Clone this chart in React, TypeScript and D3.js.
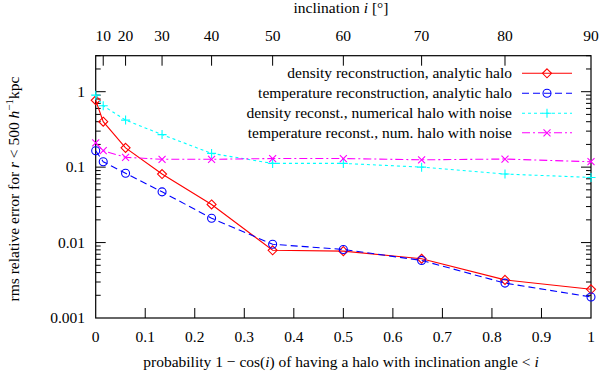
import React, { useEffect, useRef } from "react";
import * as d3 from "d3";

// inclination angle of the halo [deg]
const inclination = [0, 10, 20, 30, 40, 50, 60, 70, 80, 90];
// rms relative error for r < 500 h^-1 kpc
const densityAnalytic = [0.77, 0.40, 0.18, 0.081, 0.032, 0.0079, 0.0077, 0.0061, 0.0032, 0.0024];
const temperatureAnalytic = [0.165, 0.118, 0.083, 0.047, 0.021, 0.0095, 0.0081, 0.0058, 0.0029, 0.0019];
const densityNumerical = [0.9, 0.65, 0.42, 0.27, 0.152, 0.112, 0.112, 0.1, 0.081, 0.073];
const temperatureNumerical = [0.21, 0.165, 0.135, 0.127, 0.127, 0.13, 0.13, 0.125, 0.128, 0.118];

const seriesNames = [
  "density reconstruction, analytic halo",
  "temperature reconstruction, analytic halo",
  "density reconst., numerical halo with noise",
  "temperature reconst., num. halo with noise",
];

const bottomTicks = [0, 0.1, 0.2, 0.3, 0.4, 0.5, 0.6, 0.7, 0.8, 0.9, 1];
const topTicks = [10, 20, 30, 40, 50, 60, 70, 80, 90];
const yTicks = [0.001, 0.01, 0.1, 1];

const FONT = "'Liberation Serif', serif";

function App() {
  const ref = useRef<SVGSVGElement>(null);

  useEffect(() => {
    const svg = d3.select(ref.current);
    svg.selectAll("*").remove();

    const left = 95.7, right = 591, top = 55.7, bottom = 318;
    const prob = (deg: number) => 1 - Math.cos((deg * Math.PI) / 180);

    const x = d3.scaleLinear().domain([0, 1]).range([left, right]);
    const y = d3.scaleLog().domain([0.001, 3]).range([bottom, top]);

    const g = svg.append("g").attr("font-family", FONT).attr("font-size", 15.5);

    // ticks: bottom / top
    bottomTicks.slice(1, -1).forEach((t) => {
      g.append("line").attr("x1", x(t)).attr("x2", x(t)).attr("y1", bottom).attr("y2", bottom - 10)
        .attr("stroke", "#000");
    });
    topTicks.slice(0, -1).forEach((t) => {
      g.append("line").attr("x1", x(prob(t))).attr("x2", x(prob(t))).attr("y1", top).attr("y2", top + 10)
        .attr("stroke", "#000");
    });

    // log ticks left and right
    for (let dec = 0.001; dec < 3; dec *= 10) {
      for (let m = 1; m < 10; m++) {
        const v = dec * m;
        if (v > 3 || (m == 1 && dec == 0.001)) continue;
        const len = m == 1 ? 10 : 5;
        g.append("line").attr("x1", left).attr("x2", left + len).attr("y1", y(v)).attr("y2", y(v)).attr("stroke", "#000");
        g.append("line").attr("x1", right).attr("x2", right - len).attr("y1", y(v)).attr("y2", y(v)).attr("stroke", "#000");
      }
    }

    // frame
    g.append("rect").attr("x", left).attr("y", top).attr("width", right - left).attr("height", bottom - top)
      .attr("fill", "none").attr("stroke", "#000").attr("stroke-width", 1.2);

    // tick labels
    g.selectAll(".xl").data(bottomTicks).enter().append("text")
      .attr("x", (d) => x(d)).attr("y", 342).attr("text-anchor", "middle")
      .text((d) => (d == 0 || d == 1 ? String(d) : d.toFixed(1)));
    g.selectAll(".tl").data(topTicks).enter().append("text")
      .attr("x", (d) => x(prob(d))).attr("y", 41).attr("text-anchor", "middle")
      .text((d) => d);
    g.selectAll(".yl").data(yTicks).enter().append("text")
      .attr("x", 85).attr("y", (d) => y(d) + 5).attr("text-anchor", "end")
      .text((d) => String(d));

    // axis titles
    const xt = g.append("text").attr("x", 341).attr("y", 367).attr("text-anchor", "middle");
    xt.append("tspan").text("probability 1 − cos(");
    xt.append("tspan").attr("font-style", "italic").text("i");
    xt.append("tspan").text(") of having a halo with inclination angle < ");
    xt.append("tspan").attr("font-style", "italic").text("i");

    const tt = g.append("text").attr("x", 341).attr("y", 13).attr("text-anchor", "middle");
    tt.append("tspan").text("inclination ");
    tt.append("tspan").attr("font-style", "italic").text("i");
    tt.append("tspan").text(" [°]");

    const yt = g.append("text").attr("transform", "translate(18.5,189) rotate(-90)")
      .attr("text-anchor", "middle");
    yt.append("tspan").text("rms relative error for ");
    yt.append("tspan").attr("font-style", "italic").text("r");
    yt.append("tspan").text(" < 500 ");
    yt.append("tspan").attr("font-style", "italic").text("h");
    yt.append("tspan").attr("font-size", 11).attr("dy", -6).text("−1");
    yt.append("tspan").attr("dy", 6).text("kpc");

    // series
    const series = [
      { values: densityAnalytic, color: "#ff0000", dash: "none", marker: "diamond" },
      { values: temperatureAnalytic, color: "#0000ff", dash: "7,4", marker: "circle" },
      { values: densityNumerical, color: "#00ffff", dash: "3,3", marker: "plus" },
      { values: temperatureNumerical, color: "#ff00ff", dash: "8,3,2,3", marker: "cross" },
    ];

    const drawMarker = (sel: any, kind: string, cx: number, cy: number, color: string) => {
      if (kind == "diamond") {
        sel.append("path").attr("d", `M${cx},${cy - 4.5}L${cx + 4.5},${cy}L${cx},${cy + 4.5}L${cx - 4.5},${cy}Z`)
          .attr("fill", "none").attr("stroke", color).attr("stroke-width", 1.1);
      } else if (kind == "circle") {
        sel.append("circle").attr("cx", cx).attr("cy", cy).attr("r", 4)
          .attr("fill", "none").attr("stroke", color).attr("stroke-width", 1.1);
      } else if (kind == "plus") {
        sel.append("path").attr("d", `M${cx - 4.5},${cy}H${cx + 4.5}M${cx},${cy - 4.5}V${cy + 4.5}`)
          .attr("stroke", color).attr("stroke-width", 1.1);
      } else {
        sel.append("path").attr("d", `M${cx - 3.5},${cy - 3.5}L${cx + 3.5},${cy + 3.5}M${cx - 3.5},${cy + 3.5}L${cx + 3.5},${cy - 3.5}`)
          .attr("stroke", color).attr("stroke-width", 1.1);
      }
    };

    const line = d3.line<number>()
      .x((d, i) => x(prob(inclination[i])))
      .y((d) => y(d));

    series.forEach((s) => {
      g.append("path").attr("d", line(s.values)).attr("fill", "none")
        .attr("stroke", s.color).attr("stroke-width", 1.1).attr("stroke-dasharray", s.dash);
      s.values.forEach((v, i) => drawMarker(g, s.marker, x(prob(inclination[i])), y(v), s.color));
    });

    // legend
    const rows = [73.3, 93.3, 113.3, 132.8];
    series.forEach((s, i) => {
      g.append("text").attr("x", 512).attr("y", rows[i] + 5).attr("text-anchor", "end").text(seriesNames[i]);
      g.append("line").attr("x1", 522).attr("x2", 572).attr("y1", rows[i]).attr("y2", rows[i])
        .attr("stroke", s.color).attr("stroke-width", 1.1).attr("stroke-dasharray", s.dash);
      drawMarker(g, s.marker, 547, rows[i], s.color);
    });
  }, []);

  return (
    <svg ref={ref} width={599} height={375}
      style={{ position: "absolute", left: 0, top: 0, background: "#fff" }} />
  );
}

export default App;
